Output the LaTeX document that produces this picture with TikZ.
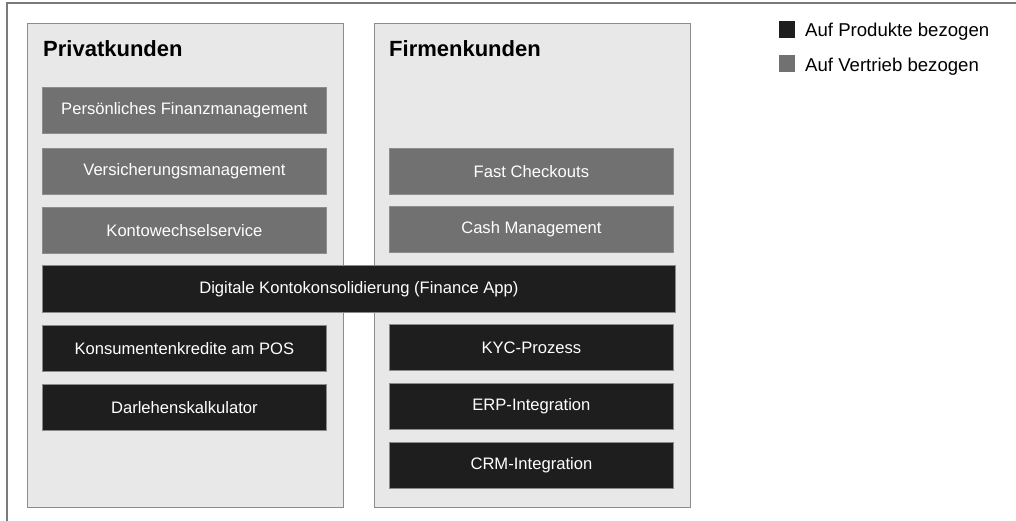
\documentclass[tikz,border=0pt]{standalone}
\usepackage{fontspec}
\setmainfont{Liberation Sans}
\definecolor{panelfill}{HTML}{E8E8E8}
\definecolor{panelline}{HTML}{8C8C8C}
\definecolor{prodfill}{HTML}{1E1E1E}
\definecolor{salesfill}{HTML}{717171}
\definecolor{boxline}{HTML}{8A8A8A}
\definecolor{frameline}{HTML}{7A7A7A}
\begin{document}
\begin{tikzpicture}[x=1pt,y=-1pt,
  panel/.style={draw=panelline,fill=panelfill,line width=1pt,anchor=north west,inner sep=0pt},
  title/.style={anchor=base west,inner sep=0pt,font=\fontsize{22}{25}\selectfont\bfseries,text=black},
  item/.style={draw=boxline,line width=0.8pt,anchor=north west,inner sep=0pt,
    minimum width=284pt,minimum height=46pt,text=white,font=\fontsize{16.6}{19}\selectfont},
  prod/.style={item,fill=prodfill},
  sales/.style={item,fill=salesfill,draw=salesfill!80!white},
  legsq/.style={anchor=north west,inner sep=0pt,minimum width=16pt,minimum height=17pt},
  legtext/.style={anchor=base west,inner sep=0pt,font=\fontsize{18.6}{21}\selectfont}]
\useasboundingbox (0,0) rectangle (1016,521);
% outer frame (only the top and left edges lie inside the page)
\draw[frameline,line width=1.3pt] (7,521) -- (7,3) -- (1016,3);
% customer segments
\node[panel,minimum width=316pt,minimum height=484pt] (priv) at (27,23) {};
\node[panel,minimum width=316pt,minimum height=484pt] (firm) at (374,23) {};
\node[title] (privT) at (43,57) {Privatkunden};
\node[title] (firmT) at (389,57) {Firmenkunden};
% private customers
\node[sales] (pfm)  at (42,87)  {Persönliches Finanzmanagement};
\node[sales] (vers) at (42,148) {Versicherungsmanagement};
\node[sales] (kws)  at (42,207) {Kontowechselservice};
\node[prod]  (kkp)  at (42,325) {Konsumentenkredite am POS};
\node[prod]  (dlk)  at (42,384) {Darlehenskalkulator};
% corporate customers
\node[sales] (fco)  at (389,148) {Fast Checkouts};
\node[sales] (cash) at (389,206) {Cash Management};
\node[prod]  (kyc)  at (389,324) {KYC-Prozess};
\node[prod]  (erp)  at (389,383) {ERP-Integration};
\node[prod]  (crm)  at (389,442) {CRM-Integration};
% spanning both segments
\node[prod,minimum width=633pt,minimum height=47pt] (dkk) at (42,265) {Digitale Kontokonsolidierung (Finance App)};
% legend
\node[legsq,fill=prodfill] (lq1) at (779,21) {};
\node[legsq,fill=salesfill] (lq2) at (779,55) {};
\node[legtext] (lt1) at (805,37) {Auf Produkte bezogen};
\node[legtext] (lt2) at (805,72) {Auf Vertrieb bezogen};
\end{tikzpicture}
\end{document}
